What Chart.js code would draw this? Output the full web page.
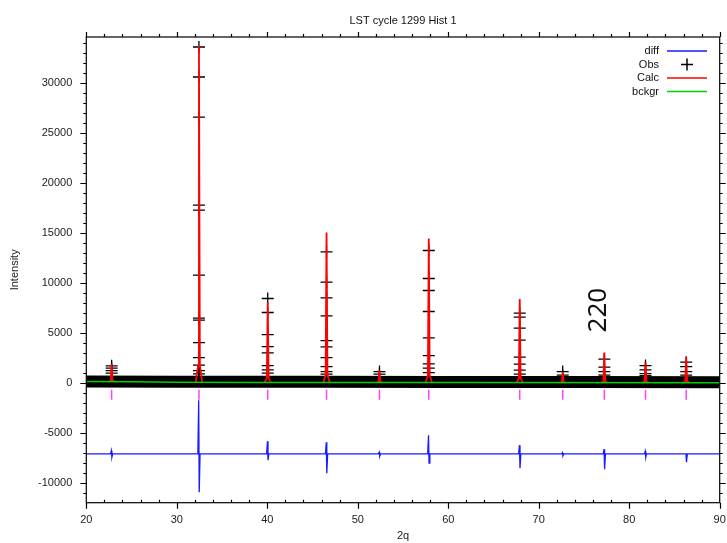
<!DOCTYPE html>
<html>
<head>
<meta charset="utf-8">
<title>LST cycle 1299 Hist 1</title>
<script src="https://cdn.jsdelivr.net/npm/chart.js@4.4.1/dist/chart.umd.min.js"></script>
<style>
  html, body { margin: 0; padding: 0; background: #fff; }
  canvas { display: block; }
</style>
</head>
<body>
<canvas id="gsasPlot" width="727" height="543"></canvas>
<script>
// reflection positions (2theta) and calculated peak tops
var peakPos = [22.8, 32.45, 40.05, 46.55, 52.4, 57.85, 67.9, 72.65, 77.25, 81.8, 86.3];
var calcTop = [1900, 33700, 8100, 15050, 1250, 14450, 8400, 1100, 3050, 2100, 2600];
var calcBase = [140, 100, 80, 70, 65, 60, 55, 55, 50, 50, 50];

// observed counts stepping through each peak
var obsPeaks = [
  [1730, 1500, 1260, 1000],
  [33600, 30600, 26600, 17800, 17300, 10800, 6500, 6300, 4060, 2560, 1800, 1260, 930],
  [8460, 7060, 4860, 3660, 3030, 1760, 1330, 1000],
  [13130, 10100, 8530, 6730, 4260, 3630, 2560, 1660, 1160, 900],
  [1160, 900],
  [13260, 10460, 9260, 7160, 4530, 2760, 1930, 1500, 1060],
  [7000, 6600, 5500, 4300, 2600, 1900, 1300, 900],
  [1160, 800],
  [2400, 1600, 1160, 800],
  [1760, 1330, 960, 750],
  [2100, 1660, 1160, 800]
];

// observed points between the peaks (dense band)
var obsBaseX = [20, 30, 45, 60, 75, 90];
var obsBaseY = [170, 150, 140, 120, 110, 100];

// background
var bkgX = [20, 25, 30, 40, 60, 90];
var bkgY = [170, 130, 100, 70, 60, 50];

// difference curve (offset) and its excursions at each peak
var diffBase = -7070;
var diffHigh = [-6750, -1700, -5800, -5900, -6900, -5200, -6200, -6950, -6600, -6800, -7000];
var diffLow = [-7400, -10900, -7700, -9000, -7300, -8000, -8500, -7250, -8600, -7400, -7900];

// reflection tick row
var reflY = -1170;

var xTickLabels = [20, 30, 40, 50, 60, 70, 80, 90];
var yTickLabels = [-10000, -5000, 0, 5000, 10000, 15000, 20000, 25000, 30000];

var peakLabel = { text: "220", x: 76.65, y: 7300 };

// ---- build datasets ----
var calcPts = [];
var shapeDx = [-0.35, -0.1, 0, 0.1, 0.35];
var shapeFr = [0, 0.05, 1, 0.05, 0];
peakPos.forEach(function (p, i) {
  for (var k = 0; k < shapeDx.length; k++) {
    calcPts.push({ x: p + shapeDx[k], y: calcBase[i] + shapeFr[k] * (calcTop[i] - calcBase[i]) });
  }
  calcPts.push({ x: p + 0.4, y: null });
});

var obsPts = [];
peakPos.forEach(function (p, i) {
  obsPeaks[i].forEach(function (v) { obsPts.push({ x: p, y: v }); });
});

var bandPts = obsBaseX.map(function (x, i) { return { x: x, y: obsBaseY[i] }; });
var bkgPts = bkgX.map(function (x, i) { return { x: x, y: bkgY[i] }; });

var diffPts = [{ x: 20, y: diffBase }];
peakPos.forEach(function (p, i) {
  diffPts.push({ x: p - 0.12, y: diffBase });
  diffPts.push({ x: p - 0.03, y: diffHigh[i] });
  diffPts.push({ x: p + 0.03, y: diffLow[i] });
  diffPts.push({ x: p + 0.12, y: diffBase });
});
diffPts.push({ x: 90, y: diffBase });

var reflPts = peakPos.map(function (p) { return { x: p, y: reflY }; });

var FONT = "'Liberation Sans', Arial, sans-serif";
Chart.defaults.font.family = FONT;
Chart.defaults.font.size = 11;
Chart.defaults.color = "#222";

// frame, tick marks, title, legend and the hkl label
var gsasDecor = {
  id: "gsasDecor",
  afterDatasetsDraw: function (chart) {
    var ctx = chart.ctx, a = chart.chartArea;
    var xs = chart.scales.x, ys = chart.scales.y;
    ctx.save();
    ctx.strokeStyle = "#000";
    ctx.lineWidth = 1.2;
    ctx.strokeRect(a.left, a.top, a.right - a.left, a.bottom - a.top);
    ctx.beginPath();
    var v, px, len;
    for (v = 20; v <= 90; v += 2) {
      px = Math.round(xs.getPixelForValue(v)) + 0.5;
      if (v % 10 === 0) {
        ctx.moveTo(px, a.bottom); ctx.lineTo(px, a.bottom + 6);
        ctx.moveTo(px, a.top); ctx.lineTo(px, a.top - 5);
      } else {
        ctx.moveTo(px, a.bottom); ctx.lineTo(px, a.bottom - 3);
        ctx.moveTo(px, a.top); ctx.lineTo(px, a.top - 3);
      }
    }
    for (v = -11000; v <= 34000; v += 1000) {
      px = Math.round(ys.getPixelForValue(v)) + 0.5;
      len = v % 5000 === 0 ? 6 : 3;
      ctx.moveTo(a.left, px); ctx.lineTo(a.left - len, px);
      ctx.moveTo(a.right, px); ctx.lineTo(a.right + len, px);
    }
    ctx.stroke();

    // plot title
    ctx.fillStyle = "#111";
    ctx.font = "11px " + FONT;
    ctx.textAlign = "center";
    ctx.textBaseline = "middle";
    ctx.fillText("LST cycle 1299 Hist 1", (a.left + a.right) / 2, 20.5);

    // key, text right-aligned with sample to its right
    var rowY = 51;
    chart.data.datasets.forEach(function (ds) {
      if (!ds.key) return;
      ctx.textAlign = "right";
      ctx.fillStyle = "#111";
      ctx.fillText(ds.label, 659, rowY);
      ctx.strokeStyle = ds.key === "marker" ? "#000" : ds.borderColor;
      ctx.lineWidth = 1.5;
      ctx.beginPath();
      if (ds.key === "marker") {
        ctx.moveTo(681, rowY); ctx.lineTo(693, rowY);
        ctx.moveTo(687, rowY - 6); ctx.lineTo(687, rowY + 6);
      } else {
        ctx.moveTo(667, rowY); ctx.lineTo(707, rowY);
      }
      ctx.stroke();
      rowY += 13.5;
    });

    // hkl label
    ctx.save();
    ctx.translate(xs.getPixelForValue(peakLabel.x), ys.getPixelForValue(peakLabel.y));
    ctx.rotate(-Math.PI / 2);
    ctx.font = "26px 'Noto Sans', sans-serif";
    ctx.fillStyle = "#111";
    ctx.textAlign = "center";
    ctx.textBaseline = "middle";
    ctx.fillText(peakLabel.text, 0, 0);
    ctx.restore();
    ctx.restore();
  }
};

var ctx = document.getElementById("gsasPlot").getContext("2d");

new Chart(ctx, {
  type: "scatter",
  data: {
    datasets: [
      {
        label: "diff", key: "line", data: diffPts, showLine: true,
        borderColor: "#1a1aff", borderWidth: 1.3, pointRadius: 0, order: 1
      },
      {
        label: "Obs", key: "marker", data: obsPts, showLine: false,
        pointStyle: "cross", pointRadius: 6, pointBorderColor: "#000",
        pointBorderWidth: 1.3, borderColor: "#000", order: 4
      },
      {
        label: "Calc", key: "line", data: calcPts, showLine: true, spanGaps: false,
        borderColor: "#ff0000", borderWidth: 1.8, pointRadius: 0, order: 3
      },
      {
        label: "bckgr", key: "line", data: bkgPts, showLine: true,
        borderColor: "#00d000", borderWidth: 1.5, pointRadius: 0, order: 2
      },
      {
        label: "obs band", data: bandPts, showLine: true,
        borderColor: "#000", borderWidth: 12, borderCapStyle: "butt",
        pointRadius: 0, order: 5, clip: 0
      },
      {
        label: "reflections", data: reflPts, showLine: false,
        pointStyle: "line", rotation: 90, pointRadius: 5,
        pointBorderColor: "#ff40ff", pointBorderWidth: 1.5, order: 6
      }
    ]
  },
  options: {
    responsive: false,
    animation: false,
    layout: { padding: { top: 37, right: 6, bottom: 0, left: 0 } },
    plugins: {
      legend: { display: false },
      tooltip: { enabled: false }
    },
    scales: {
      x: {
        type: "linear", min: 20, max: 90,
        grid: { display: false, drawTicks: false }, border: { display: false },
        ticks: {
          padding: 11, maxRotation: 0, autoSkip: false,
          callback: function (v) { return String(v); }
        },
        afterBuildTicks: function (s) {
          s.ticks = xTickLabels.map(function (v) { return { value: v }; });
        },
        title: { display: true, text: "2q", padding: { top: 0, bottom: 0 } },
        afterFit: function (s) { s.height = 40.3; s.paddingLeft = 0; s.paddingRight = 0; }
      },
      y: {
        type: "linear", min: -11950, max: 34600,
        grid: { display: false, drawTicks: false }, border: { display: false },
        ticks: {
          padding: 14, autoSkip: false,
          callback: function (v) { return String(v); }
        },
        afterBuildTicks: function (s) {
          s.ticks = yTickLabels.map(function (v) { return { value: v }; });
        },
        title: { display: true, text: "Intensity", padding: { top: 8, bottom: 0 } },
        afterFit: function (s) { s.width = 86.3; s.paddingTop = 0; s.paddingBottom = 0; }
      }
    }
  },
  plugins: [gsasDecor]
});
</script>
</body>
</html>
